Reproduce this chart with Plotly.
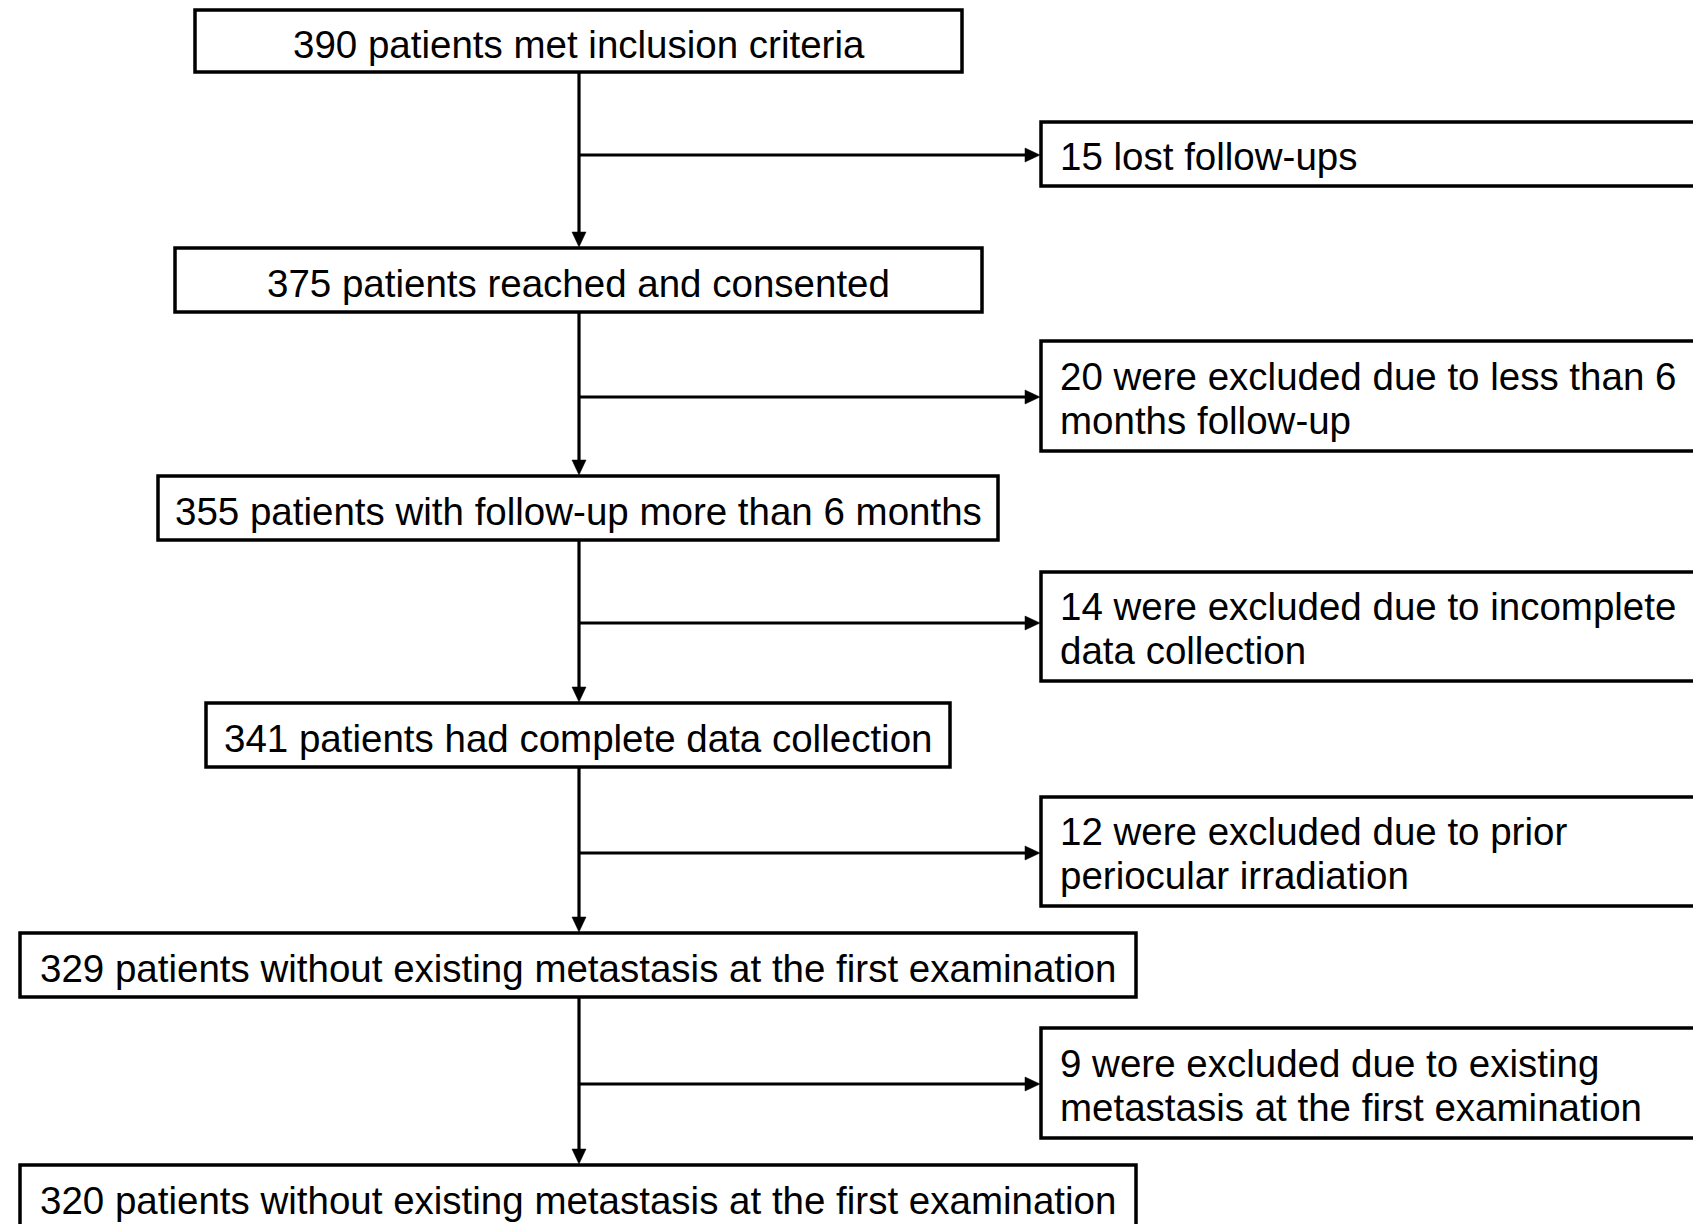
import plotly.graph_objects as go

# ---- data ----
main_counts = [390, 375, 355, 341, 329, 320]
main_labels = [
    "patients met inclusion criteria",
    "patients reached and consented",
    "patients with follow-up more than 6 months",
    "patients had complete data collection",
    "patients without existing metastasis at the first examination",
    "patients without existing metastasis at the first examination",
]
excl_counts = [15, 20, 14, 12, 9]
excl_lines = [
    ["lost follow-ups"],
    ["were excluded due to less than 6", "months follow-up"],
    ["were excluded due to incomplete", "data collection"],
    ["were excluded due to prior", "periocular irradiation"],
    ["were excluded due to existing", "metastasis at the first examination"],
]

# ---- layout geometry (pixels in a 1693x1224 canvas) ----
W, H = 1693, 1224
main_x = [(195, 962), (175, 982), (158, 998), (206, 950), (20, 1136), (20, 1136)]
main_y = [(10, 72), (248, 312), (476, 540), (703, 767), (933, 997), (1165, 1240)]
spine_x = 579
excl_x0, excl_x1 = 1041, 1710
excl_y = [(122, 186), (341, 451), (572, 681), (797, 906), (1028, 1138)]
branch_y = [155, 397, 623, 853, 1084]
text_pad = 17
line_gap = 44
FONT = "Liberation Sans, Arial, Helvetica, sans-serif"
FS = 38.5
BOX_W = 3.5
LINE_W = 3.2
HEAD_L, HEAD_W = 15, 14

fig = go.Figure()
shapes = []
annotations = []

# main boxes
for (x0, x1), (y0, y1), n, lab in zip(main_x, main_y, main_counts, main_labels):
    shapes.append(dict(type="rect", x0=x0, x1=x1, y0=y0, y1=y1,
                       line=dict(color="black", width=BOX_W), fillcolor="white", layer="above"))
    yc = (y0 + min(y1, y0 + 64)) / 2
    annotations.append(dict(x=(x0 + x1) / 2, y=yc + 3, text=f"{n} {lab}",
                            showarrow=False, xanchor="center", yanchor="middle",
                            font=dict(family=FONT, size=FS, color="black")))

# exclusion boxes
for (y0, y1), n, lines in zip(excl_y, excl_counts, excl_lines):
    shapes.append(dict(type="rect", x0=excl_x0, x1=excl_x1, y0=y0, y1=y1,
                       line=dict(color="black", width=BOX_W), fillcolor="white", layer="above"))
    cy = (y0 + y1) / 2
    k = len(lines)
    for i, ln in enumerate(lines):
        ty = cy + (i - (k - 1) / 2) * line_gap + 2
        txt = f"{n} {ln}" if i == 0 else ln
        annotations.append(dict(x=excl_x0 + text_pad, y=ty, text=txt, showarrow=False,
                                xanchor="left", yanchor="middle",
                                font=dict(family=FONT, size=FS, color="black")))

# vertical connectors with arrowheads
for i in range(len(main_y) - 1):
    y_start = main_y[i][1]
    y_tip = main_y[i + 1][0] - 1
    shapes.append(dict(type="line", x0=spine_x, x1=spine_x, y0=y_start, y1=y_tip - HEAD_L + 1,
                       line=dict(color="black", width=LINE_W)))
    shapes.append(dict(type="path",
                       path=f"M {spine_x - HEAD_W/2},{y_tip - HEAD_L} L {spine_x + HEAD_W/2},{y_tip - HEAD_L} L {spine_x},{y_tip} Z",
                       fillcolor="black", line=dict(color="black", width=0.5)))

# horizontal branches with arrowheads
for by in branch_y:
    x_tip = excl_x0 - 1
    shapes.append(dict(type="line", x0=spine_x, x1=x_tip - HEAD_L + 1, y0=by, y1=by,
                       line=dict(color="black", width=LINE_W)))
    shapes.append(dict(type="path",
                       path=f"M {x_tip - HEAD_L},{by - HEAD_W/2} L {x_tip - HEAD_L},{by + HEAD_W/2} L {x_tip},{by} Z",
                       fillcolor="black", line=dict(color="black", width=0.5)))

fig.update_layout(
    width=W, height=H,
    margin=dict(l=0, r=0, t=0, b=0),
    paper_bgcolor="white", plot_bgcolor="white",
    xaxis=dict(range=[0, W], visible=False, fixedrange=True),
    yaxis=dict(range=[H, 0], visible=False, fixedrange=True),
    shapes=shapes, annotations=annotations, showlegend=False,
)
fig.write_html(
    "out.html",
    config={"displayModeBar": False},
    post_script="document.body.style.margin='0';document.body.style.overflow='hidden';",
)
